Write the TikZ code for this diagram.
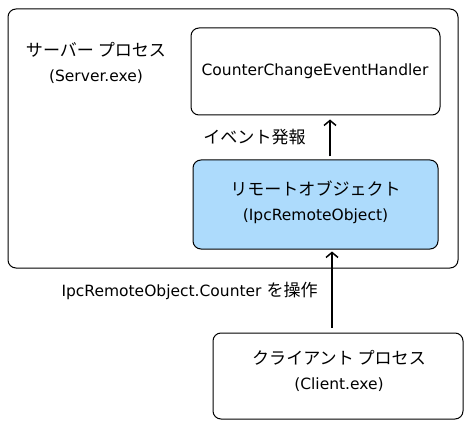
\documentclass[tikz,border=0pt]{standalone}
\usepackage{fontspec}
\setmainfont{DejaVu Sans}
\newfontfamily\jp[Scale=1.1]{Noto Sans CJK JP}
\usetikzlibrary{arrows.meta}
\definecolor{remoteblue}{RGB}{173,219,252}

\begin{document}
\begin{tikzpicture}[x=1pt,y=-1pt,
  box/.style={rectangle,draw,rounded corners=8pt,line width=1pt,inner sep=0pt},
  lbl/.style={align=center,font=\fontsize{15.5}{25}\selectfont},
  flow/.style={-{Straight Barb[length=5pt,width=12pt,line width=1.5pt]},line width=2pt}]
  \useasboundingbox (0,0) rectangle (472,428);
  \node[box,minimum width=450pt,minimum height=259pt] (server) at (233,138.5) {};
  \node[lbl] (serverlabel) at (96,63) {{\jp サーバー プロセス}\\(Server.exe)};
  \node[box,minimum width=249pt,minimum height=87pt] (handler) at (315.5,71.5) {};
  \node[lbl] (handlerlabel) at (315,71) {CounterChangeEventHandler};
  \node[box,fill=remoteblue,minimum width=245pt,minimum height=89pt] (remote) at (315.5,204.5) {};
  \node[lbl] (remotelabel) at (315.5,202) {{\jp リモートオブジェクト}\\(IpcRemoteObject)};
  \node[box,minimum width=250pt,minimum height=86pt] (client) at (338,376) {};
  \node[lbl] (clientlabel) at (339,371) {{\jp クライアント プロセス}\\(Client.exe)};
  % arrows
  \draw[flow,shorten <=3pt,shorten >=4pt] ([xshift=14.5pt]remote.north) -- ([xshift=14.5pt]handler.south)
    node[pos=0.5,left=20pt,lbl] (eventlabel) {\jp イベント発報};
  \draw[flow,shorten <=5pt,shorten >=2pt] ([xshift=-6pt]client.north) -- ([xshift=16.5pt]remote.south)
    node[pos=0.5,left=10pt,lbl] (counterlabel) {IpcRemoteObject.Counter {\jp を操作}};
\end{tikzpicture}
\end{document}
